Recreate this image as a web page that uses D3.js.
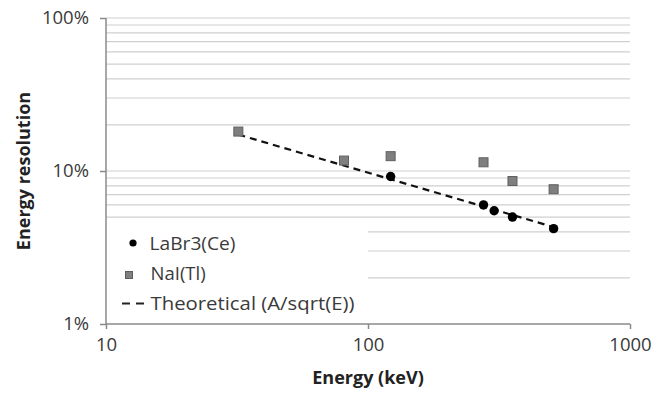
<!DOCTYPE html>
<html><head><meta charset="utf-8">
<script src="https://cdn.jsdelivr.net/npm/d3@7"></script>
<style>
body{margin:0;background:#fff;}
text{font-family:"Open Sans", sans-serif;}
</style></head>
<body><svg id="c" width="670" height="395"></svg>
<script>
// Data (energy keV, resolution %)
const labrEnergy = [122, 276, 303, 356, 511];
const labrRes = [9.2, 6.0, 5.5, 5.0, 4.2];
const naiEnergy = [32, 81, 122, 276, 356, 511];
const naiRes = [18.1, 11.7, 12.5, 11.4, 8.6, 7.6];
const theoEnergy = [32, 511];
const theoRes = [17.3, 4.3];
const xTicks = [10, 100, 1000];
const yTicks = [1, 10, 100];
const gridValues = [2,3,4,5,6,7,8,9,10,20,30,40,50,60,70,80,90,100];
const legendLabels = ["LaBr3(Ce)", "NaI(Tl)", "Theoretical (A/sqrt(E))"];

const svg = d3.select("#c");
const L = 106, R = 630, T = 18, B = 324;
const x = d3.scaleLog().domain([10, 1000]).range([L, R]);
const y = d3.scaleLog().domain([1, 100]).range([B, T]);
const textCol = "#3a3a3a";
const fs = "18.5px";

// gridlines
svg.append("g").selectAll("line").data(gridValues).join("line")
  .attr("x1", d => d < 5 ? x(100) : L).attr("x2", R)
  .attr("y1", d => y(d)).attr("y2", d => y(d))
  .attr("stroke", "#cfcfcf").attr("stroke-width", 1.2);

// axes
const xAxis = d3.axisBottom(x).tickValues(xTicks).tickFormat(d3.format("d")).tickSize(5).tickPadding(9);
const yAxis = d3.axisLeft(y).tickValues(yTicks).tickFormat(d => d + "%").tickSize(6).tickPadding(11);
const gx = svg.append("g").attr("transform", `translate(0,${B})`).call(xAxis);
const gy = svg.append("g").attr("transform", `translate(${L},0)`).call(yAxis);
[gx, gy].forEach(g => {
  g.select(".domain").attr("stroke", "#8a8a8a").attr("stroke-width", 1.5);
  g.selectAll(".tick line").attr("stroke", "#8a8a8a").attr("stroke-width", 1.5);
  g.selectAll(".tick text").attr("fill", textCol).style("font-size", fs).style("font-family", "Open Sans");
});
gx.select(".domain").attr("d", `M${L},0H${R}`);
gy.select(".domain").attr("d", `M0,${B}V${T}`);

// theoretical line
svg.append("path")
  .datum(theoEnergy.map((e, i) => [e, theoRes[i]]))
  .attr("d", d3.line().x(d => x(d[0])).y(d => y(d[1])))
  .attr("fill", "none").attr("stroke", "#111").attr("stroke-width", 2.2)
  .attr("stroke-dasharray", "7,5");

// LaBr circles
svg.append("g").selectAll("circle").data(labrEnergy).join("circle")
  .attr("cx", d => x(d)).attr("cy", (d, i) => y(labrRes[i])).attr("r", 4.7)
  .attr("fill", "#000");

// NaI squares
const s = 9;
svg.append("g").selectAll("rect").data(naiEnergy).join("rect")
  .attr("x", d => x(d) - s/2).attr("y", (d, i) => y(naiRes[i]) - s/2)
  .attr("width", s).attr("height", s)
  .attr("fill", "#7f7f7f").attr("stroke", "#5f5f5f").attr("stroke-width", 1);

// legend
const lg = svg.append("g");
const baseY = [250, 280, 310];
lg.append("circle").attr("cx", 133).attr("cy", 243).attr("r", 3.6).attr("fill", "#000");
lg.append("rect").attr("x", 125.5).attr("y", 271.5).attr("width", 7).attr("height", 7)
  .attr("fill", "#7f7f7f").attr("stroke", "#5f5f5f");
lg.append("line").attr("x1", 122).attr("x2", 144).attr("y1", 303.5).attr("y2", 303.5)
  .attr("stroke", "#222").attr("stroke-width", 2).attr("stroke-dasharray", "8,6");
const lens = [86, 0, 204];
lg.selectAll("text").data(legendLabels).join("text")
  .attr("x", (d, i) => i === 0 ? 149.5 : 150.5).attr("y", (d, i) => baseY[i])
  .attr("textLength", (d, i) => lens[i] || null).attr("lengthAdjust", "spacingAndGlyphs")
  .attr("fill", textCol).style("font-size", fs).text(d => d);

// axis titles
svg.append("text").attr("x", (L + R) / 2).attr("y", 384).attr("text-anchor", "middle")
  .attr("fill", "#222").style("font-size", "18px").style("font-weight", "bold").text("Energy (keV)");
svg.append("text").attr("transform", `translate(30,${(T + B) / 2}) rotate(-90)`).attr("text-anchor", "middle")
  .attr("fill", "#222").style("font-size", "18px").style("font-weight", "bold").text("Energy resolution");
</script></body></html>
